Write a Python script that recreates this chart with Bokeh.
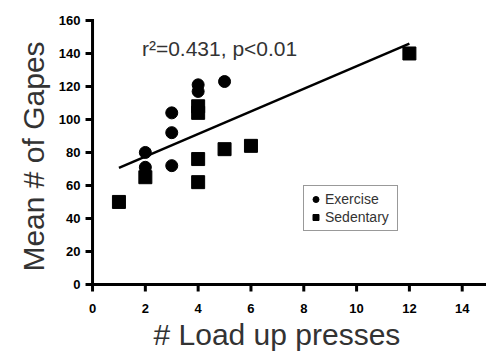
import numpy as np
from bokeh.plotting import figure
from bokeh.models import BoxAnnotation, FixedTicker, Label, Legend, LegendItem, Range1d, Title
from bokeh.embed import file_html
from bokeh.resources import INLINE

# Load-up presses vs. mean number of gapes, per animal
exercise_presses = [2, 2, 3, 3, 3, 4, 4, 5]
exercise_gapes = [80, 71, 104, 92, 72, 121, 117, 123]
sedentary_presses = [1, 2, 4, 4, 4, 4, 5, 6, 12]
sedentary_gapes = [50, 65, 108, 104, 76, 62, 82, 84, 140]

x_ticks = [0, 2, 4, 6, 8, 10, 12, 14]
y_ticks = [0, 20, 40, 60, 80, 100, 120, 140, 160]
stats_text = "r\u00b2=0.431, p<0.01"
x_title = "# Load up presses"
y_title = "Mean # of Gapes"

FONT = "Liberation Sans"

# Frame leaves a small margin left of x=0 and below y=0 so the axis rules
# and their outward ticks can be drawn as solid boxes inside it.
W, H = 486, 354
LEFT, RIGHT, TOP, BOTTOM = 82, 0, 18, 60
X0, X1 = -0.38, 14.92
Y0, Y1 = -6.1, 161.2
frame_w = W - LEFT - RIGHT
frame_h = H - TOP - BOTTOM
px_x = (X1 - X0) / frame_w   # data units per pixel, horizontally
px_y = (Y1 - Y0) / frame_h   # data units per pixel, vertically
RULE_PX = 3
TICK_PX = 7

p = figure(
    width=W, height=H,
    x_range=Range1d(X0, X1), y_range=Range1d(Y0, Y1),
    output_backend="svg", toolbar_location=None,
    min_border_left=LEFT, min_border_right=RIGHT,
    min_border_top=TOP, min_border_bottom=BOTTOM,
)
p.outline_line_color = None
p.grid.visible = False

# Axes supply the tick labels and the y title only
p.axis.axis_line_color = None
p.axis.major_tick_line_color = None
p.axis.minor_tick_line_color = None
p.axis.major_tick_out = 0
p.axis.major_tick_in = 0
p.axis.minor_tick_out = 0
p.axis.minor_tick_in = 0
p.axis.major_label_text_font = FONT
p.axis.major_label_text_font_style = "bold"
p.axis.major_label_text_font_size = "13px"
p.axis.major_label_text_color = "black"
p.axis.axis_label_text_font = FONT
p.axis.axis_label_text_font_style = "normal"
p.axis.axis_label_text_font_size = "30px"
p.axis.axis_label_text_color = "#333333"

p.xaxis.ticker = FixedTicker(ticks=x_ticks)
p.yaxis.ticker = FixedTicker(ticks=y_ticks)
p.xaxis.major_label_standoff = 9
p.yaxis.major_label_standoff = 2
p.yaxis.axis_label = y_title
p.yaxis.axis_label_standoff = 6

p.add_layout(Title(text=x_title, align="left", offset=71, standoff=0,
                   text_font=FONT, text_font_size="30px", text_font_style="normal",
                   text_color="#333333"), "below")

# Least-squares fit over all animals, drawn across the observed press range
all_x = np.array(exercise_presses + sedentary_presses, dtype=float)
all_y = np.array(exercise_gapes + sedentary_gapes, dtype=float)
slope, intercept = np.polyfit(all_x, all_y, 1)
fit_x = np.array([all_x.min(), all_x.max()])
p.line(fit_x, slope * fit_x + intercept, line_color="black", line_width=2.5)

ex = p.scatter(exercise_presses, exercise_gapes, marker="circle", size=12,
               fill_color="black", line_color="black")
sed = p.scatter(sedentary_presses, sedentary_gapes, marker="square", size=13,
                fill_color="black", line_color="black")

p.add_layout(Label(x=1.87, y=143, text=stats_text, text_font=FONT,
                   text_font_size="21px", text_color="#333333",
                   text_baseline="alphabetic"))

legend = Legend(
    items=[LegendItem(label="Exercise", renderers=[ex]),
           LegendItem(label="Sedentary", renderers=[sed])],
    location=(221, 63),
    label_text_font=FONT, label_text_font_size="14px", label_text_color="#333333",
    glyph_width=15, glyph_height=18, label_height=18, label_width=68, label_standoff=2,
    padding=4, spacing=0, margin=0,
    border_line_color="#333333", border_line_width=1,
    background_fill_color="white", background_fill_alpha=1,
)
p.add_layout(legend)


def solid_box(left, right, bottom, top):
    p.add_layout(BoxAnnotation(left=left, right=right, bottom=bottom, top=top,
                               fill_color="black", fill_alpha=1.0,
                               line_color=None, line_alpha=0.0))


# Axis rules and outward ticks
hx = RULE_PX / 2 * px_x
hy = RULE_PX / 2 * px_y
solid_box(-hx, X1, -hy, hy)                      # x rule
solid_box(-hx, hx, -hy, y_ticks[-1] + hy)        # y rule
for t in x_ticks:
    solid_box(t - hx, t + hx, -TICK_PX * px_y, 0)
for t in y_ticks:
    solid_box(-TICK_PX * px_x, 0, t - hy, t + hy)

open("out.html", "w").write(file_html(p, INLINE))
